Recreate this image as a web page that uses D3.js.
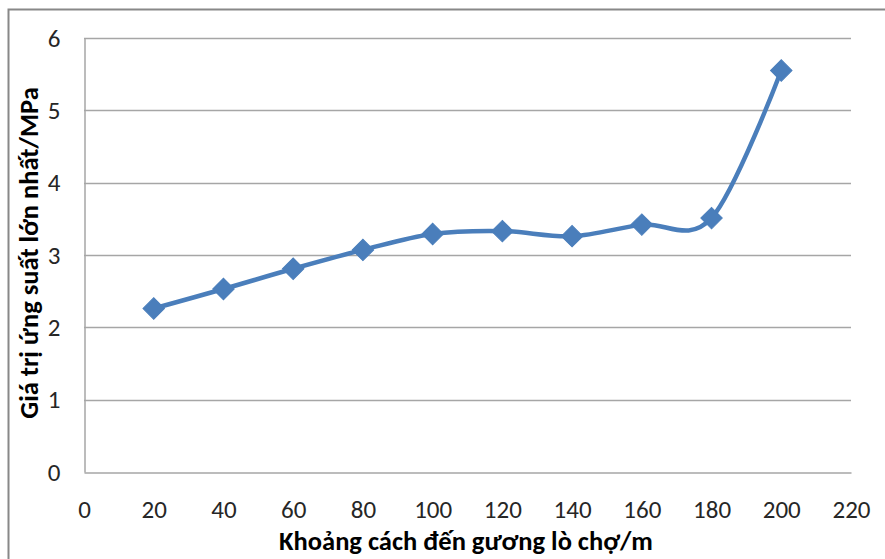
<!DOCTYPE html>
<html lang="vi">
<head>
    <meta charset="UTF-8">
    <title>Giá trị ứng suất lớn nhất</title>
    <style>
        body {
            margin: 0;
            background-color: #ffffff;
        }
        svg {
            display: block;
        }
        .tick text {
            font-family: Carlito, Lato, sans-serif;
            font-size: 25px;
            fill: #262626;
        }
        .title {
            font-family: Carlito, Lato, sans-serif;
            font-size: 26.5px;
            font-weight: bold;
            fill: #000;
        }
    </style>
</head>
<body>
<script src="https://d3js.org/d3.v7.min.js"></script>
<script>
    // data
    var distances = [20, 40, 60, 80, 100, 120, 140, 160, 180, 200];
    var stressMax = [2.26, 2.53, 2.81, 3.07, 3.29, 3.33, 3.26, 3.42, 3.51, 5.55];
    var xTicks = [0, 20, 40, 60, 80, 100, 120, 140, 160, 180, 200, 220];
    var yTicks = [0, 1, 2, 3, 4, 5, 6];

    var width = 885, height = 559;
    var margin = {top: 38, right: 34, bottom: 87, left: 84};

    var svg = d3.select("body").append("svg")
        .attr("width", width)
        .attr("height", height);

    // outer chart frame (only top and left visible in the crop)
    svg.append("rect")
        .attr("x", 8.5)
        .attr("y", 9.5)
        .attr("width", width + 10)
        .attr("height", height + 10)
        .attr("fill", "none")
        .attr("stroke", "#888888")
        .attr("stroke-width", 2);

    var xScale = d3.scaleLinear()
        .domain([0, 220])
        .range([margin.left, width - margin.right]);

    var yScale = d3.scaleLinear()
        .domain([0, 6])
        .range([height - margin.bottom, margin.top]);

    // horizontal gridlines
    svg.append("g")
        .selectAll("line")
        .data(yTicks.slice(1))
        .enter().append("line")
        .attr("x1", xScale(0))
        .attr("x2", xScale(220))
        .attr("y1", d => Math.round(yScale(d)) + 0.5)
        .attr("y2", d => Math.round(yScale(d)) + 0.5)
        .attr("stroke", "#a6a6a6")
        .attr("stroke-width", 1.5);

    var xAxis = d3.axisBottom(xScale)
        .tickValues(xTicks)
        .tickFormat(d3.format("d"))
        .tickSize(0)
        .tickPadding(28);

    var yAxis = d3.axisLeft(yScale)
        .tickValues(yTicks)
        .tickFormat(d3.format("d"))
        .tickSize(0)
        .tickPadding(24);

    var gx = svg.append("g")
        .attr("transform", "translate(0," + (Math.round(yScale(0)) + 0.5) + ")")
        .call(xAxis);
    gx.select(".domain").attr("stroke", "#a6a6a6").attr("stroke-width", 1.5);
    gx.selectAll(".tick text").attr("dy", "0.71em");

    var gy = svg.append("g")
        .attr("transform", "translate(" + (Math.round(xScale(0)) + 0.5) + ",0)")
        .call(yAxis);
    gy.select(".domain").attr("stroke", "#a6a6a6").attr("stroke-width", 1.5);

    // smoothed line like the spreadsheet's smoothing
    var line = d3.line()
        .x((d, i) => xScale(distances[i]))
        .y(d => yScale(d))
        .curve(d3.curveCardinal.tension(0));

    svg.append("path")
        .datum(stressMax)
        .attr("fill", "none")
        .attr("stroke", "#4a7ebb")
        .attr("stroke-width", 4.5)
        .attr("d", line);

    svg.append("g")
        .selectAll("path")
        .data(stressMax)
        .enter().append("path")
        .attr("d", d3.symbol().type(d3.symbolSquare).size(230))
        .attr("transform", (d, i) => "translate(" + xScale(distances[i]) + "," + yScale(d) + ") rotate(45)")
        .attr("fill", "#4a7ebb")
        .attr("stroke", "#4a7ebb")
        .attr("stroke-width", 1);

    svg.append("text")
        .attr("class", "title")
        .attr("text-anchor", "middle")
        .attr("x", 466)
        .attr("y", 550)
        .text("Khoảng cách đến gương lò chợ/m");

    svg.append("text")
        .attr("class", "title")
        .attr("text-anchor", "middle")
        .attr("transform", "translate(38,253) rotate(-90)")
        .text("Giá trị ứng suất lớn nhất/MPa");
</script>
</body>
</html>
